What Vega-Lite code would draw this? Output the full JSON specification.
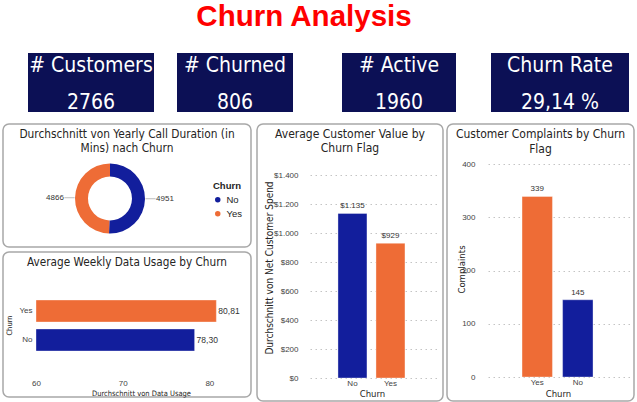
{
  "$schema": "https://vega.github.io/schema/vega-lite/v6.json",
  "background": "white",
  "padding": {"left": 2, "top": 1, "right": 0, "bottom": 0},
  "config": {
    "view": {"stroke": null},
    "locale": {"number": {"decimal": ",", "thousands": ".", "grouping": [3], "currency": ["$", ""]}},
    "axis": {"domain": false, "ticks": false, "grid": false, "labelFont": "Liberation Sans", "labelFontSize": 8, "labelColor": "#444444", "titleFont": "DejaVu Sans Condensed, Roboto, sans-serif", "titleFontWeight": "normal", "titleColor": "#252423", "labelFlush": false, "labelOverlap": false},
    "title": {"font": "DejaVu Sans Condensed, Roboto, sans-serif", "fontWeight": "normal", "color": "#252423", "fontSize": 12}
  },
  "title": {"text": "Churn Analysis", "font": "Liberation Sans", "fontSize": 29.5, "fontWeight": "bold", "color": "#ff0000", "anchor": "middle", "dx": -14.5, "offset": 21},
  "spacing": 10,
  "resolve": {"scale": {"color": "independent"}, "legend": {"color": "independent"}},
  "vconcat": [
    {
      "spacing": 49,
      "hconcat": [
        {
          "spacing": 23,
          "hconcat": [
            {"width": 2, "height": 59, "data": {"values": []}, "mark": "point"},
            {
              "width": 126, "height": 59,
              "view": {"fill": "#0c1055", "stroke": null},
              "data": {"values": [{"kpi": "# Customers", "value": "2766"}]},
              "layer": [
                {"mark": {"type": "text", "font": "DejaVu Sans Condensed, Roboto, sans-serif", "fontSize": 21, "color": "white", "baseline": "alphabetic", "dy": -10.5}, "encoding": {"text": {"field": "kpi"}}},
                {"mark": {"type": "text", "font": "DejaVu Sans Condensed, Roboto, sans-serif", "fontSize": 21, "color": "white", "baseline": "alphabetic", "dy": 26}, "encoding": {"text": {"field": "value"}}}
              ]
            },
            {
              "width": 116, "height": 59,
              "view": {"fill": "#0c1055", "stroke": null},
              "data": {"values": [{"kpi": "# Churned", "value": "806"}]},
              "layer": [
                {"mark": {"type": "text", "font": "DejaVu Sans Condensed, Roboto, sans-serif", "fontSize": 21, "color": "white", "baseline": "alphabetic", "dy": -10.5}, "encoding": {"text": {"field": "kpi"}}},
                {"mark": {"type": "text", "font": "DejaVu Sans Condensed, Roboto, sans-serif", "fontSize": 21, "color": "white", "baseline": "alphabetic", "dy": 26}, "encoding": {"text": {"field": "value"}}}
              ]
            }
          ]
        },
        {
          "spacing": 35,
          "hconcat": [
            {
              "width": 114, "height": 59,
              "view": {"fill": "#0c1055", "stroke": null},
              "data": {"values": [{"kpi": "# Active", "value": "1960"}]},
              "layer": [
                {"mark": {"type": "text", "font": "DejaVu Sans Condensed, Roboto, sans-serif", "fontSize": 21, "color": "white", "baseline": "alphabetic", "dy": -10.5}, "encoding": {"text": {"field": "kpi"}}},
                {"mark": {"type": "text", "font": "DejaVu Sans Condensed, Roboto, sans-serif", "fontSize": 21, "color": "white", "baseline": "alphabetic", "dy": 26}, "encoding": {"text": {"field": "value"}}}
              ]
            },
            {
              "width": 138, "height": 59,
              "view": {"fill": "#0c1055", "stroke": null},
              "data": {"values": [{"kpi": "Churn Rate", "value": "29,14 %"}]},
              "layer": [
                {"mark": {"type": "text", "font": "DejaVu Sans Condensed, Roboto, sans-serif", "fontSize": 21, "color": "white", "baseline": "alphabetic", "dy": -10.5}, "encoding": {"text": {"field": "kpi"}}},
                {"mark": {"type": "text", "font": "DejaVu Sans Condensed, Roboto, sans-serif", "fontSize": 21, "color": "white", "baseline": "alphabetic", "dy": 26}, "encoding": {"text": {"field": "value"}}}
              ]
            }
          ]
        }
      ]
    },
    {
      "spacing": 2,
      "resolve": {"scale": {"color": "independent"}, "legend": {"color": "independent"}},
      "hconcat": [
        {
          "spacing": 4,
          "resolve": {"scale": {"color": "independent"}, "legend": {"color": "independent"}},
          "hconcat": [
            {
              "spacing": 3,
              "resolve": {"scale": {"color": "independent"}, "legend": {"color": "independent"}},
              "vconcat": [
                {
                  "width": 248, "height": 123,
                  "view": {"stroke": "#a8a8a8", "strokeWidth": 1.5, "cornerRadius": 6, "fill": "white"},
                  "title": {"text": ["Durchschnitt von Yearly Call Duration (in", "Mins) nach Churn"], "fontSize": 11.8, "baseline": "top", "offset": -31, "lineHeight": 14, "anchor": "middle"},
                  "data": {"values": [{"churn": "No", "duration": 4951}, {"churn": "Yes", "duration": 4866}]},
                  "encoding": {
                    "theta": {"field": "duration", "type": "quantitative", "stack": true},
                    "order": {"field": "churn", "type": "ordinal", "sort": "ascending"}
                  },
                  "layer": [
                    {
                      "mark": {"type": "arc", "outerRadius": 35, "innerRadius": 22, "xOffset": -17, "yOffset": 13},
                      "encoding": {
                        "color": {"field": "churn", "type": "nominal", "scale": {"domain": ["No", "Yes"], "range": ["#121e9c", "#ee6c36"]},
                          "legend": {"orient": "none", "legendX": 210, "legendY": 56.5, "title": "Churn", "titleFont": "Liberation Sans", "titleFontSize": 9.5, "titleFontWeight": "bold", "titleColor": "#252423", "titlePadding": 5, "labelFont": "Liberation Sans", "labelFontSize": 9.5, "labelColor": "#252423", "symbolType": "circle", "symbolSize": 30, "symbolStrokeWidth": 0, "rowPadding": 3, "labelOffset": 4}}
                      }
                    },
                    {
                      "mark": {"type": "text", "text": "—", "radius": 40.5, "xOffset": -17, "yOffset": 13, "fontSize": 10, "fontWeight": "bold", "color": "#cccccc"},
                      "encoding": {"detail": {"field": "churn"}}
                    },
                    {
                      "mark": {"type": "text", "radius": 55, "xOffset": -17, "yOffset": 13, "fontSize": 8, "font": "Liberation Sans", "color": "#333333"},
                      "encoding": {"detail": {"field": "churn"}, "text": {"field": "duration", "type": "quantitative", "format": "d"}}
                    }
                  ]
                },
                {
                  "width": 248, "height": 145,
                  "view": {"stroke": "#a8a8a8", "strokeWidth": 1.5, "cornerRadius": 6, "fill": "white"},
                  "title": {"text": "Average Weekly Data Usage by Churn", "fontSize": 11.7, "baseline": "top", "offset": -17, "anchor": "middle"},
                  "data": {"values": [{"churn": "Yes", "usage": 80.81}, {"churn": "No", "usage": 78.30}]},
                  "encoding": {
                    "y": {"field": "churn", "type": "nominal", "sort": ["Yes", "No"], "scale": {"range": [48, 99], "paddingInner": 0.24, "paddingOuter": 0},
                      "axis": {"offset": -33, "labelPadding": 4, "title": "Churn", "titleFontSize": 7.5, "titleX": -27, "titleY": 73, "titleAngle": -90, "titleAlign": "center", "titleBaseline": "middle"}},
                    "x": {"field": "usage", "type": "quantitative", "scale": {"domain": [60, 81], "range": [33, 215], "nice": false, "zero": false},
                      "axis": {"values": [60, 70, 80], "offset": -21, "labelPadding": 3, "title": "Durchschnitt von Data Usage", "titleFontSize": 7.5, "titleX": 138, "titleY": 17, "titleAlign": "center", "titleBaseline": "middle"}}
                  },
                  "layer": [
                    {
                      "mark": {"type": "bar", "stroke": "white", "strokeOpacity": 0.35, "strokeWidth": 1},
                      "encoding": {
                        "x2": {"datum": 60},
                        "color": {"field": "churn", "type": "nominal", "scale": {"domain": ["No", "Yes"], "range": ["#121e9c", "#ee6c36"]}, "legend": null}
                      }
                    },
                    {
                      "mark": {"type": "text", "align": "left", "dx": 2, "fontSize": 8.5, "font": "Liberation Sans", "color": "#333333"},
                      "encoding": {"text": {"field": "usage", "type": "quantitative", "format": ".2f"}}
                    }
                  ]
                }
              ]
            },
            {
              "width": 186, "height": 277,
              "view": {"stroke": "#a8a8a8", "strokeWidth": 1.5, "cornerRadius": 6, "fill": "white"},
              "title": {"text": ["Average Customer Value by", "Churn Flag"], "baseline": "top", "offset": -31, "lineHeight": 14, "anchor": "middle"},
              "data": {"values": [{"churn": "No", "spend": 1135}, {"churn": "Yes", "spend": 929}]},
              "encoding": {
                "x": {"field": "churn", "type": "nominal", "sort": ["No", "Yes"], "scale": {"range": [53, 183], "paddingInner": 0.237, "paddingOuter": 0.829, "align": 0.444},
                  "axis": {"labelAngle": 0, "offset": -23, "labelPadding": 1, "title": "Churn", "titleFontSize": 9.5, "titleX": 115, "titleY": 15, "titleAlign": "center", "titleBaseline": "middle"}},
                "y": {"field": "spend", "type": "quantitative", "scale": {"domain": [0, 1400], "range": [254, 51], "nice": false},
                  "axis": {"values": [0, 200, 400, 600, 800, 1000, 1200, 1400], "format": "$,.0f", "offset": -44, "labelPadding": 3, "grid": true, "gridColor": "#c4c4c4", "gridDash": [1.5, 3.5],
                    "title": "Durchschnitt von Net Customer Spend", "titleFontSize": 10, "titleX": -32, "titleY": 143.5, "titleAngle": -90, "titleAlign": "center", "titleBaseline": "middle"}}
              },
              "layer": [
                {
                  "mark": {"type": "bar", "stroke": "white", "strokeOpacity": 0.35, "strokeWidth": 1},
                  "encoding": {"color": {"field": "churn", "type": "nominal", "scale": {"domain": ["No", "Yes"], "range": ["#121e9c", "#ee6c36"]}, "legend": null}}
                },
                {
                  "mark": {"type": "text", "baseline": "bottom", "dy": -3, "fontSize": 8, "font": "Liberation Sans", "color": "#333333"},
                  "encoding": {"text": {"field": "spend", "type": "quantitative", "format": "$,.0f"}}
                }
              ]
            }
          ]
        },
        {
          "width": 187, "height": 277,
          "view": {"stroke": "#a8a8a8", "strokeWidth": 1.5, "cornerRadius": 6, "fill": "white"},
          "title": {"text": ["Customer Complaints by Churn", "Flag"], "baseline": "top", "offset": -32, "lineHeight": 15, "anchor": "middle"},
          "data": {"values": [{"churn": "Yes", "complaints": 339}, {"churn": "No", "complaints": 145}]},
          "encoding": {
            "x": {"field": "churn", "type": "nominal", "sort": ["Yes", "No"], "scale": {"range": [41, 185], "paddingInner": 0.25, "paddingOuter": 0.9, "align": 0.466},
              "axis": {"labelAngle": 0, "offset": -24, "labelPadding": 1, "title": "Churn", "titleFontSize": 9.5, "titleX": 111, "titleY": 16, "titleAlign": "center", "titleBaseline": "middle"}},
            "y": {"field": "complaints", "type": "quantitative", "scale": {"domain": [0, 400], "range": [253, 40], "nice": false},
              "axis": {"values": [0, 100, 200, 300, 400], "offset": -31, "labelPadding": 3, "grid": true, "gridColor": "#c4c4c4", "gridDash": [1.5, 3.5],
                "title": "Complaints", "titleFontSize": 9.5, "titleX": -17, "titleY": 145, "titleAngle": -90, "titleAlign": "center", "titleBaseline": "middle"}}
          },
          "layer": [
            {
              "mark": {"type": "bar", "stroke": "white", "strokeOpacity": 0.35, "strokeWidth": 1},
              "encoding": {"color": {"field": "churn", "type": "nominal", "scale": {"domain": ["No", "Yes"], "range": ["#121e9c", "#ee6c36"]}, "legend": null}}
            },
            {
              "mark": {"type": "text", "baseline": "bottom", "dy": -3, "fontSize": 8, "font": "Liberation Sans", "color": "#333333"},
              "encoding": {"text": {"field": "complaints", "type": "quantitative", "format": "d"}}
            }
          ]
        }
      ]
    }
  ]
}
